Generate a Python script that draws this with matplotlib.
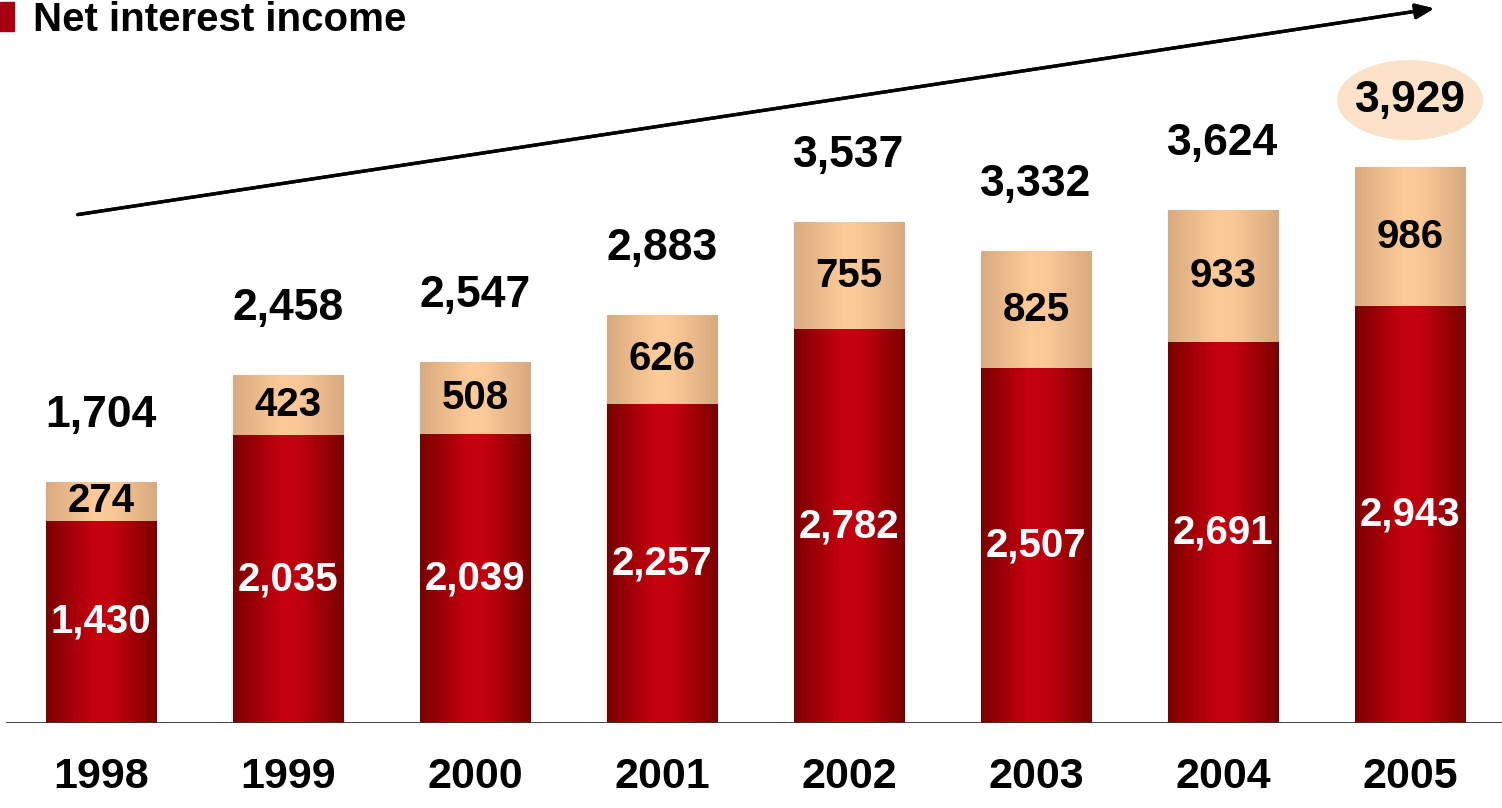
import numpy as np
import matplotlib.pyplot as plt
from matplotlib.colors import LinearSegmentedColormap
from matplotlib.patches import Rectangle, Ellipse

years = ["1998", "1999", "2000", "2001", "2002", "2003", "2004", "2005"]
base = [1430, 2035, 2039, 2257, 2782, 2507, 2691, 2943]
extra = [274, 423, 508, 626, 755, 825, 933, 986]
totals = [1704, 2458, 2547, 2883, 3537, 3332, 3624, 3929]
title = "Net interest income"

plt.rcParams["font.family"] = ["Liberation Sans", "DejaVu Sans"]
plt.rcParams["font.weight"] = "bold"

red_cmap = LinearSegmentedColormap.from_list(
    "red", [(0, "#7a0000"), (0.42, "#c4000f"), (0.6, "#c2000e"), (1, "#7a0000")])
tan_cmap = LinearSegmentedColormap.from_list(
    "tan", [(0, "#d9aa80"), (0.45, "#fdcb98"), (0.6, "#fac896"), (1, "#d6a97e")])
grad = np.linspace(0, 1, 256).reshape(1, -1)

fig = plt.figure(figsize=(15.02, 8.08), dpi=100)
ax = fig.add_axes([0, 0.105, 1, 0.895])
ax.set_xlim(-0.540, 7.492)
ax.set_ylim(0, 5106)
ax.axis("off")

width = 0.59
x = np.arange(len(years))
for i in x:
    for y0, h, cmap in [(0, base[i], red_cmap), (base[i], extra[i], tan_cmap)]:
        im = ax.imshow(grad, cmap=cmap, aspect="auto",
                       extent=(i - width / 2, i + width / 2, y0, y0 + h), zorder=2)
        rect = Rectangle((i - width / 2, y0), width, h, transform=ax.transData)
        im.set_clip_path(rect)
    ax.text(i, base[i] / 2, f"{base[i]:,}", color="white", fontsize=29,
            ha="center", va="center", zorder=3)
    ax.text(i, base[i] + extra[i] / 2, f"{extra[i]:,}", color="black", fontsize=29,
            ha="center", va="center", zorder=3)
    ax.text(i, totals[i] + 470, f"{totals[i]:,}", color="black", fontsize=32,
            ha="center", va="center", zorder=4)
    fig.text((101 + 187 * i) / 1502, 1 - 777 / 808, years[i], fontsize=31,
             ha="center", va="center")

# highlight last total
ax.add_patch(Ellipse((x[-1], totals[-1] + 470), 0.78, 80 / 0.1416,
                     facecolor="#fce1c9", edgecolor="none", zorder=3))

# baseline
ax.axhline(0, xmin=7 / 1502, xmax=1, color="#333333", lw=2, zorder=5)

# trend arrow
fig.add_artist(plt.annotate(
    "", xy=(1437 / 1502, 1 - 8 / 808), xycoords="figure fraction",
    xytext=(75 / 1502, 1 - 215 / 808), textcoords="figure fraction",
    arrowprops=dict(arrowstyle="-|>,head_length=1.1,head_width=0.45",
                    color="black", lw=2.4)))

# title with marker
fig.add_artist(Rectangle((0, 1 - 31 / 808), 14 / 1502, 29 / 808,
                         transform=fig.transFigure, color="#a8000e"))
fig.text(33 / 1502, 1 - 31 / 808, title, fontsize=29, ha="left", va="baseline")

fig.savefig("out.png", dpi=100)
